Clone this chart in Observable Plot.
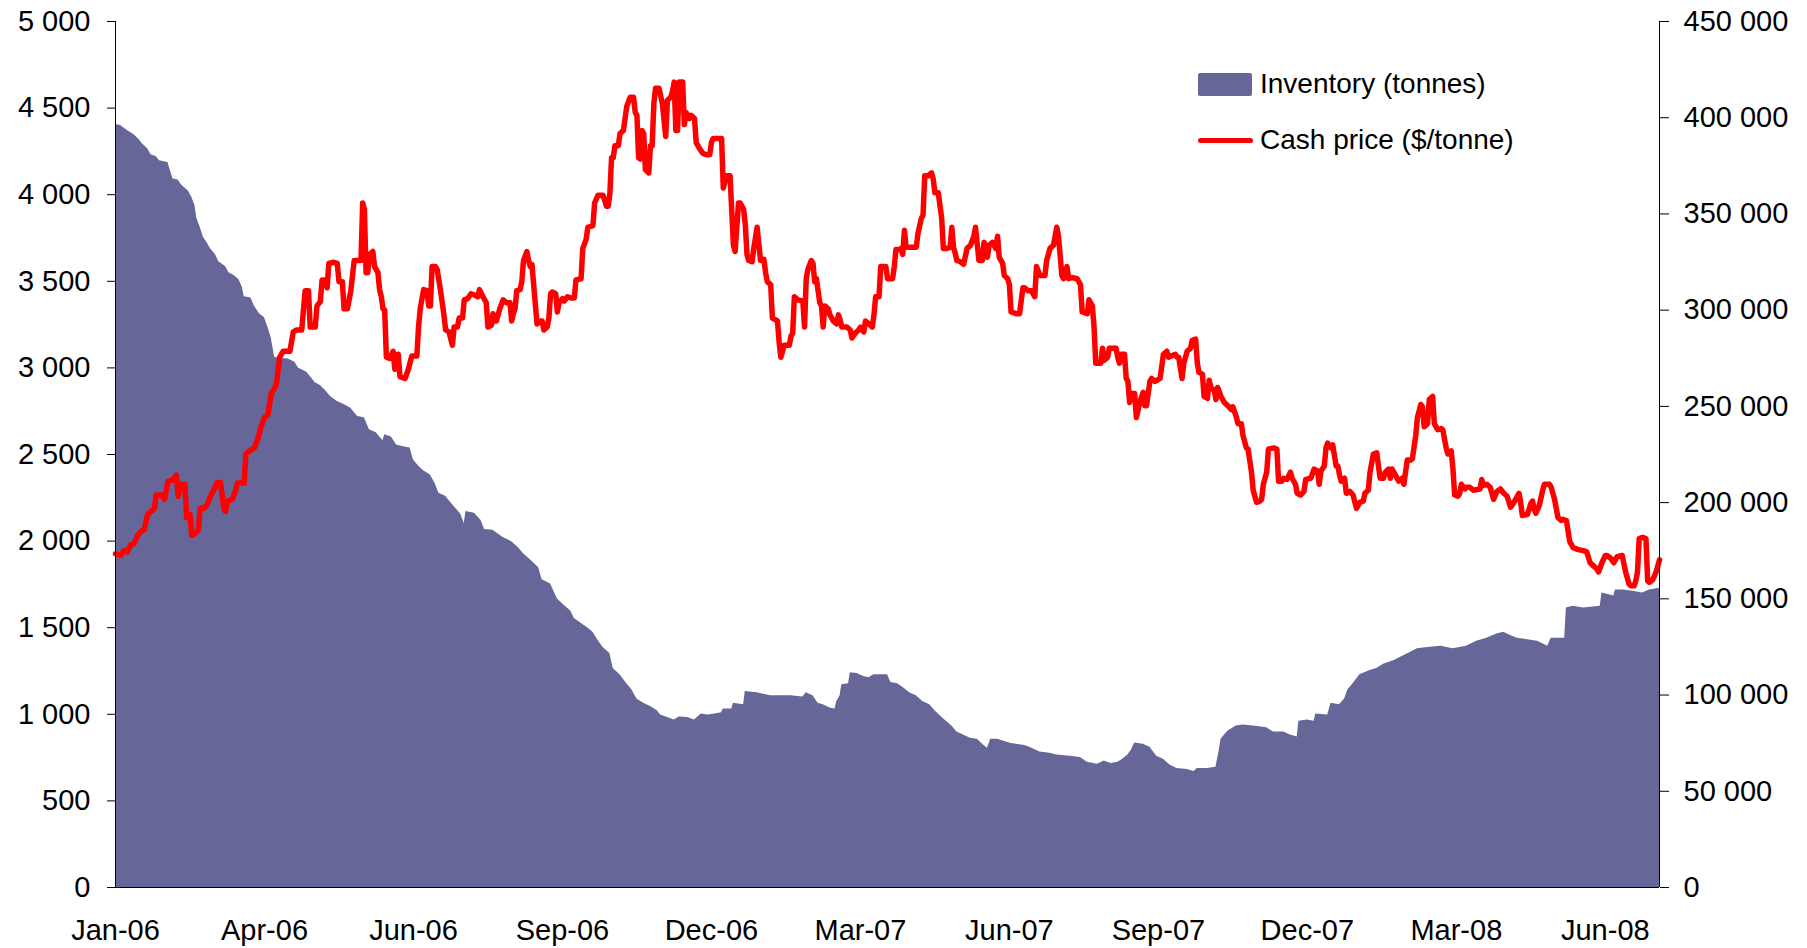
<!DOCTYPE html>
<html><head><meta charset="utf-8">
<script src="https://cdn.jsdelivr.net/npm/d3@7"></script>
<script src="https://cdn.jsdelivr.net/npm/@observablehq/plot@0.6"></script>
<style>
html,body{margin:0;padding:0;background:#fff;}
#wrap{position:relative;width:1807px;height:948px;overflow:hidden;}
.item{position:absolute;left:1198px;height:40px;display:flex;align-items:center;font-family:"Liberation Sans",Arial,sans-serif;font-size:28px;color:#000;white-space:nowrap;}
.sw{width:54px;height:23px;border-radius:2px;margin-right:8px;}
.ln{width:55px;height:5px;border-radius:3px;margin-right:7px;}
</style></head><body><div id="wrap"></div>
<script>
// Days are counted from 3 Jan 2006
const startDate = Date.UTC(2006, 0, 3);
const endDay = 912;
const tickStepDays = 88;
const tickCount = 11;
const leftTicks = [0, 500, 1000, 1500, 2000, 2500, 3000, 3500, 4000, 4500, 5000];
const rightTicks = [0, 50000, 100000, 150000, 200000, 250000, 300000, 350000, 400000, 450000];
const rightPerLeft = 90; // 450 000 on the right axis sits level with 5 000 on the left
const seriesNames = ["Inventory (tonnes)", "Cash price ($/tonne)"];
const seriesColors = ["#666699", "#FF0000"];

// Cash price, $/tonne: [day, value]
const cashPrice = [[0,1927],[3,1917],[5,1945],[7,1938],[9,1979],[11,1986],[13,2032],[15,2056],[17,2067],[19,2154],[21,2171],[23,2189],[24,2266],[27,2266],[29,2241],[31,2346],[34,2353],[36,2381],[37,2259],[39,2328],[41,2328],[42,2137],[44,2154],[45,2032],[47,2042],[49,2067],[50,2189],[52,2189],[54,2206],[56,2259],[58,2294],[60,2339],[62,2339],[64,2189],[65,2171],[66,2231],[69,2241],[71,2294],[72,2335],[76,2335],[77,2503],[79,2520],[82,2538],[84,2590],[86,2660],[88,2713],[90,2730],[92,2852],[94,2887],[95,2904],[97,3062],[99,3096],[103,3096],[105,3208],[107,3219],[110,3219],[112,3445],[114,3445],[115,3236],[118,3236],[119,3358],[121,3383],[122,3508],[124,3508],[125,3463],[126,3603],[129,3610],[131,3603],[132,3498],[134,3498],[135,3341],[137,3341],[139,3446],[141,3620],[145,3620],[146,3952],[147,3917],[148,3550],[149,3550],[150,3655],[152,3672],[153,3585],[155,3550],[156,3452],[157,3411],[158,3341],[159,3334],[160,3062],[162,3055],[164,3096],[165,2992],[167,3079],[168,2950],[171,2939],[173,2992],[175,3069],[178,3069],[179,3236],[180,3341],[182,3452],[184,3446],[185,3358],[186,3358],[187,3585],[189,3585],[190,3568],[192,3446],[194,3306],[195,3219],[197,3208],[199,3131],[200,3236],[202,3236],[203,3288],[205,3288],[206,3393],[208,3400],[210,3428],[212,3421],[214,3411],[215,3452],[217,3411],[219,3376],[220,3236],[222,3246],[223,3313],[224,3271],[225,3271],[227,3341],[229,3393],[231,3376],[233,3376],[234,3271],[235,3313],[236,3341],[237,3446],[239,3452],[240,3498],[241,3620],[243,3672],[244,3620],[245,3585],[246,3596],[247,3480],[249,3254],[251,3271],[252,3271],[253,3219],[255,3236],[256,3288],[257,3428],[258,3438],[260,3428],[261,3323],[262,3376],[264,3400],[265,3386],[267,3411],[269,3404],[271,3404],[272,3508],[275,3515],[276,3690],[278,3742],[279,3812],[282,3822],[283,3952],[285,3997],[288,3997],[290,3934],[291,3934],[292,4004],[293,4213],[294,4213],[295,4283],[297,4283],[298,4353],[300,4371],[302,4510],[304,4563],[306,4563],[307,4475],[308,4458],[309,4213],[310,4206],[311,4371],[312,4353],[313,4144],[315,4126],[316,4283],[317,4283],[318,4528],[319,4615],[321,4615],[323,4528],[325,4336],[326,4545],[328,4563],[329,4597],[330,4650],[331,4371],[332,4371],[333,4650],[335,4650],[336,4405],[337,4475],[339,4440],[340,4458],[342,4440],[343,4301],[345,4266],[347,4238],[349,4231],[351,4231],[352,4301],[353,4325],[358,4325],[359,4039],[361,4109],[363,4109],[365,3707],[366,3672],[368,3952],[369,3952],[371,3917],[372,3829],[373,3655],[374,3620],[376,3613],[377,3690],[379,3812],[381,3620],[383,3627],[384,3550],[385,3498],[387,3480],[388,3288],[391,3271],[392,3149],[393,3062],[395,3131],[398,3131],[399,3184],[400,3201],[401,3411],[403,3393],[406,3386],[407,3236],[408,3515],[409,3568],[411,3620],[412,3603],[413,3498],[414,3515],[416,3376],[417,3358],[418,3236],[419,3358],[421,3341],[422,3306],[424,3271],[426,3254],[427,3306],[428,3278],[429,3236],[432,3236],[434,3219],[435,3173],[437,3201],[439,3219],[440,3236],[442,3208],[443,3271],[445,3254],[447,3236],[448,3306],[449,3411],[451,3411],[452,3585],[455,3585],[456,3515],[459,3515],[460,3585],[461,3683],[463,3683],[464,3690],[465,3655],[466,3795],[467,3697],[469,3697],[473,3697],[474,3777],[476,3864],[477,3882],[478,4109],[480,4109],[482,4126],[483,4091],[484,4011],[486,4011],[488,3864],[489,3690],[491,3690],[493,3697],[494,3812],[495,3697],[496,3662],[497,3620],[499,3613],[501,3599],[503,3690],[505,3707],[507,3760],[508,3812],[510,3620],[512,3620],[513,3725],[514,3707],[515,3638],[516,3707],[518,3725],[520,3690],[521,3760],[522,3638],[524,3603],[525,3533],[527,3515],[528,3480],[529,3323],[532,3313],[534,3313],[536,3463],[537,3463],[539,3446],[541,3446],[543,3411],[544,3585],[546,3533],[549,3533],[550,3620],[552,3690],[554,3707],[556,3812],[557,3760],[559,3533],[560,3515],[562,3585],[563,3515],[565,3522],[568,3515],[570,3480],[571,3323],[574,3313],[575,3393],[577,3358],[578,3236],[579,3027],[582,3027],[583,3114],[584,3044],[586,3062],[587,3114],[591,3114],[592,3062],[593,3027],[594,3079],[596,3079],[597,2939],[598,2922],[599,2800],[600,2852],[602,2852],[603,2713],[605,2800],[607,2859],[608,2782],[609,2782],[611,2922],[612,2939],[614,2922],[617,2939],[619,3079],[621,3096],[622,3062],[626,3079],[627,3062],[628,3062],[630,2939],[631,3027],[633,3096],[635,3114],[636,3159],[638,3166],[639,3027],[640,2974],[642,2964],[643,2835],[645,2824],[646,2929],[647,2887],[649,2870],[650,2817],[651,2887],[653,2835],[655,2800],[657,2782],[659,2760],[660,2775],[662,2719],[663,2678],[665,2678],[666,2608],[668,2538],[669,2531],[671,2398],[672,2294],[674,2224],[676,2231],[677,2241],[678,2328],[680,2398],[681,2531],[684,2538],[686,2531],[687,2346],[689,2346],[690,2363],[692,2356],[694,2398],[695,2363],[697,2328],[698,2276],[700,2266],[702,2287],[703,2356],[706,2363],[708,2416],[710,2405],[711,2328],[712,2405],[714,2433],[715,2538],[716,2566],[718,2538],[719,2555],[721,2433],[722,2433],[723,2381],[724,2346],[726,2363],[727,2276],[729,2287],[731,2266],[733,2189],[735,2224],[737,2231],[738,2276],[740,2294],[741,2398],[743,2503],[745,2510],[746,2433],[747,2363],[749,2363],[750,2398],[752,2416],[753,2363],[754,2416],[756,2381],[758,2346],[760,2363],[761,2328],[762,2398],[763,2468],[765,2468],[766,2475],[768,2608],[769,2713],[771,2789],[772,2775],[773,2660],[775,2678],[776,2817],[778,2835],[779,2678],[781,2643],[783,2650],[784,2643],[786,2538],[787,2503],[789,2520],[790,2416],[791,2266],[793,2259],[794,2276],[795,2328],[797,2301],[798,2311],[800,2311],[802,2294],[806,2301],[807,2356],[808,2321],[810,2328],[812,2311],[814,2241],[816,2287],[818,2301],[820,2276],[822,2259],[824,2196],[826,2224],[827,2241],[829,2276],[830,2224],[831,2147],[834,2154],[836,2217],[837,2231],[838,2182],[839,2161],[841,2206],[843,2294],[844,2328],[847,2328],[848,2311],[850,2241],[852,2137],[854,2119],[855,2126],[857,2119],[859,1997],[861,1962],[864,1951],[867,1945],[869,1938],[871,1875],[873,1857],[875,1840],[876,1822],[878,1875],[880,1917],[881,1917],[883,1903],[885,1875],[887,1910],[890,1917],[891,1868],[892,1822],[894,1753],[895,1742],[897,1742],[898,1770],[899,1822],[900,2014],[902,2021],[904,2014],[905,1770],[906,1763],[908,1777],[910,1822],[912,1892]];

// Inventory, tonnes: [day, value]
const inventory = [[0,396500],[3,395900],[7,393400],[11,391100],[14,388600],[16,386400],[19,383900],[21,380800],[24,379800],[26,377600],[31,376700],[32,373600],[34,368200],[37,367600],[39,365100],[43,361900],[45,358800],[47,354100],[48,347800],[50,343100],[52,337700],[54,335200],[56,332100],[59,328900],[61,325200],[65,322700],[67,319500],[70,318000],[73,315800],[75,311700],[76,307000],[80,306300],[82,302200],[85,298200],[88,296000],[90,291200],[92,285600],[94,275500],[97,274900],[102,274600],[106,273000],[108,269900],[113,267700],[116,264500],[118,262300],[121,260800],[124,258300],[127,255100],[131,252600],[135,251000],[139,249000],[143,244800],[147,244100],[150,237800],[154,236300],[158,232200],[159,235300],[163,234100],[166,230000],[170,229000],[174,228400],[176,222100],[179,219000],[182,216500],[186,214300],[189,209600],[191,204900],[195,203300],[198,200100],[201,197000],[204,193900],[206,189100],[207,195400],[212,194500],[216,190700],[218,186000],[223,185700],[225,184400],[229,181900],[234,179700],[238,176600],[241,173400],[245,170300],[250,166200],[252,159900],[257,157700],[261,149900],[265,146700],[269,143600],[271,139800],[275,137300],[279,134800],[282,132600],[285,128500],[288,124700],[292,121600],[294,113800],[298,110600],[302,105900],[305,102800],[308,98000],[312,95800],[316,94000],[320,91800],[322,89600],[326,88300],[330,87100],[333,88600],[338,88300],[342,87100],[346,90200],[350,89600],[354,90200],[358,90800],[359,92700],[364,92700],[365,95800],[371,94900],[372,101800],[379,101200],[387,99600],[399,99600],[406,99000],[408,101200],[412,99600],[415,95800],[418,94900],[422,93300],[425,92700],[426,96500],[428,99600],[429,105300],[433,105900],[434,111600],[438,111200],[442,109700],[445,109000],[448,110600],[456,110600],[458,106500],[462,105900],[466,103400],[469,101200],[473,99600],[477,96500],[481,94900],[484,91800],[489,87700],[494,83900],[497,80800],[505,77600],[509,77000],[513,73800],[515,72300],[517,77000],[521,77000],[529,74800],[537,73800],[540,72900],[546,70400],[552,69800],[556,68800],[564,68200],[570,67600],[574,65100],[580,64100],[584,65700],[588,64400],[592,65100],[595,66600],[598,68800],[600,71300],[602,75100],[607,74500],[611,72900],[615,68200],[619,66600],[623,63500],[627,61900],[633,61300],[637,60300],[639,61900],[645,61900],[650,62500],[652,71300],[653,77000],[657,81200],[662,83900],[666,84500],[672,83900],[680,83000],[684,80800],[690,80800],[694,79200],[698,78200],[699,86400],[704,87100],[708,86400],[709,90200],[716,89600],[718,95800],[723,94900],[726,98000],[728,102800],[731,105900],[735,110600],[741,112800],[745,113800],[749,116000],[755,117800],[760,120000],[765,122200],[769,124100],[775,124700],[783,125400],[790,124100],[794,124700],[798,125400],[804,127900],[810,129500],[816,131700],[820,132600],[824,131000],[828,129500],[836,128500],[840,127900],[844,126300],[846,125400],[848,129500],[856,129500],[857,145200],[861,146100],[867,145200],[873,145800],[877,146100],[878,153000],[881,152400],[885,151500],[886,154600],[891,154600],[898,153700],[902,153000],[906,154600],[912,155500]];

const toDate = d => new Date(startDate + d * 864e5);
const priceData = cashPrice.map(([d, v]) => ({date: toDate(d), value: v}));
const invData = inventory.map(([d, v]) => ({date: toDate(d), value: v / rightPerLeft}));
const xTicks = d3.range(tickCount).map(k => toDate(k * tickStepDays));
const fmtNum = d => d3.format(",")(d).replace(/,/g, " ");

const chart = Plot.plot({
  width: 1807, height: 948,
  marginLeft: 115, marginRight: 148, marginTop: 21, marginBottom: 61,
  style: {fontFamily: "'Liberation Sans', Arial, sans-serif", fontSize: "29px", color: "#000", background: "#fff", overflow: "visible"},
  x: {type: "utc", domain: [toDate(0), toDate(endDay)]},
  y: {domain: [0, 5000]},
  marks: [
    Plot.areaY(invData, {x: "date", y: "value", fill: seriesColors[0]}),
    Plot.lineY(priceData, {x: "date", y: "value", stroke: seriesColors[1], strokeWidth: 5.5, strokeLinejoin: "round", strokeLinecap: "round"}),
    Plot.ruleX([toDate(0), toDate(endDay)], {stroke: "#000", strokeWidth: 1}),
    Plot.ruleY([0], {stroke: "#000", strokeWidth: 1}),
    Plot.axisY(leftTicks, {anchor: "left", tickSize: 8, tickPadding: 17, tickFormat: fmtNum, label: null}),
    Plot.axisY(rightTicks, {anchor: "right", y: d => d / rightPerLeft, tickSize: 9, tickPadding: 15, tickFormat: fmtNum, label: null}),
    Plot.axisX(xTicks, {anchor: "bottom", tickSize: 0, tickPadding: 32, tickFormat: d3.utcFormat("%b-%y"), label: null})
  ]
});
const wrap = document.getElementById("wrap");
wrap.appendChild(chart);

const legendTops = [64, 120];
seriesNames.forEach((name, i) => {
  const item = document.createElement("div");
  item.className = "item";
  item.style.top = legendTops[i] + "px";
  const key = document.createElement("div");
  key.className = i === 0 ? "sw" : "ln";
  key.style.background = seriesColors[i];
  const label = document.createElement("span");
  label.textContent = name;
  item.appendChild(key);
  item.appendChild(label);
  wrap.appendChild(item);
});
</script>
</body></html>
